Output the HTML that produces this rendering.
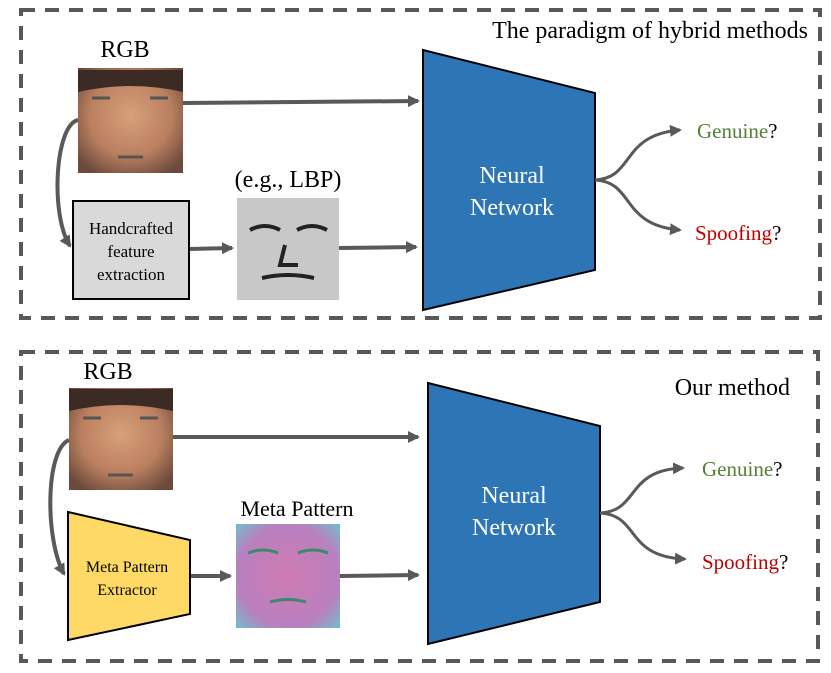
<!DOCTYPE html>
<html><head><style>body{margin:0;background:#fff}svg{display:block}text{font-family:"Liberation Serif",serif}</style></head><body>
<svg width="831" height="673" viewBox="0 0 831 673" xmlns="http://www.w3.org/2000/svg">
<defs>
<marker id="a" markerWidth="14" markerHeight="14" refX="10" refY="6" orient="auto" markerUnits="userSpaceOnUse"><path d="M0,0 L12,6 L0,12 z" fill="#595959"/></marker>
<radialGradient id="skin" cx="50%" cy="45%" r="65%"><stop offset="0" stop-color="#d9a07c"/><stop offset="0.6" stop-color="#b97f5f"/><stop offset="1" stop-color="#6b4a3c"/></radialGradient>
<radialGradient id="meta" cx="50%" cy="50%" r="70%"><stop offset="0" stop-color="#d07ab0"/><stop offset="0.7" stop-color="#b880c0"/><stop offset="1" stop-color="#6fc0c8"/></radialGradient>
</defs>
<g fill="none" stroke="#595959" stroke-width="4" stroke-dasharray="14,10">
<rect x="21" y="10" width="799" height="308"/>
<rect x="21" y="352" width="797" height="309"/>
</g>
<!-- top -->
<text x="808" y="38" font-size="24" text-anchor="end">The paradigm of hybrid methods</text>
<text x="125" y="57" font-size="24" text-anchor="middle">RGB</text>
<rect x="78" y="68" width="105" height="105" fill="url(#skin)"/>
<path d="M78,70 h105 v22 q-52,-12 -105,0z" fill="#3b2b24"/>
<g stroke="#555" stroke-width="3"><line x1="92" y1="98" x2="110" y2="98"/><line x1="150" y1="98" x2="168" y2="98"/><line x1="118" y1="157" x2="143" y2="157"/></g>
<g stroke="#595959" stroke-width="4" fill="none">
<line x1="183" y1="103" x2="418" y2="101" marker-end="url(#a)"/>
<path d="M78,120 C55,125 50,215 70,246" marker-end="url(#a)"/>
<line x1="189" y1="249" x2="232" y2="248" marker-end="url(#a)"/>
<line x1="339" y1="248" x2="416" y2="247" marker-end="url(#a)"/>
</g>
<rect x="73" y="201" width="116" height="98" fill="#d9d9d9" stroke="#000" stroke-width="2"/>
<text font-size="17" text-anchor="middle"><tspan x="131" y="234">Handcrafted</tspan><tspan x="131" y="257">feature</tspan><tspan x="131" y="280">extraction</tspan></text>
<text x="288" y="187" font-size="24" text-anchor="middle">(e.g., LBP)</text>
<rect x="237" y="198" width="102" height="102" fill="#c8c8c8"/>
<g stroke="#222" stroke-width="4" fill="none"><path d="M250,230 q15,-8 30,0 M297,230 q15,-8 30,0"/><path d="M285,245 l-5,20 h18"/><path d="M262,278 q26,-6 52,0"/></g>
<polygon points="423,50 595,93 595,270 423,310" fill="#2e75b6" stroke="#000" stroke-width="2"/>
<text font-size="24" fill="#fff" text-anchor="middle"><tspan x="512" y="183">Neural</tspan><tspan x="512" y="215">Network</tspan></text>
<g stroke="#595959" stroke-width="3" fill="none">
<path d="M595,180 C635,178 620,135 680,130" marker-end="url(#a)"/>
<path d="M595,180 C635,182 620,225 680,230" marker-end="url(#a)"/>
</g>
<text x="697" y="138" font-size="21"><tspan fill="#538135">Genuine</tspan>?</text>
<text x="695" y="240" font-size="21"><tspan fill="#c00000">Spoofing</tspan>?</text>
<!-- bottom -->
<text x="790" y="395" font-size="24" text-anchor="end">Our method</text>
<text x="108" y="379" font-size="24" text-anchor="middle">RGB</text>
<rect x="69" y="388" width="104" height="102" fill="url(#skin)"/>
<path d="M69,389 h104 v22 q-52,-12 -104,0z" fill="#3b2b24"/>
<g stroke="#555" stroke-width="3"><line x1="83" y1="418" x2="101" y2="418"/><line x1="140" y1="418" x2="158" y2="418"/><line x1="108" y1="475" x2="133" y2="475"/></g>
<g stroke="#595959" stroke-width="4" fill="none">
<line x1="173" y1="437" x2="418" y2="437" marker-end="url(#a)"/>
<path d="M69,440 C45,450 45,540 64,574" marker-end="url(#a)"/>
<line x1="190" y1="576" x2="230" y2="576" marker-end="url(#a)"/>
<line x1="340" y1="576" x2="418" y2="575" marker-end="url(#a)"/>
</g>
<polygon points="68,512 190,540 190,614 68,640" fill="#ffd966" stroke="#000" stroke-width="2"/>
<text font-size="16" text-anchor="middle"><tspan x="127" y="572">Meta Pattern</tspan><tspan x="127" y="595">Extractor</tspan></text>
<text x="297" y="516" font-size="22" text-anchor="middle">Meta Pattern</text>
<rect x="236" y="524" width="104" height="104" fill="url(#meta)"/>
<g stroke="#3a8a6a" stroke-width="3" fill="none"><path d="M248,553 q15,-6 30,0 M298,553 q15,-6 30,0"/><path d="M270,602 q18,-5 36,0"/></g>
<polygon points="428,383 600,426 600,602 428,644" fill="#2e75b6" stroke="#000" stroke-width="2"/>
<text font-size="24" fill="#fff" text-anchor="middle"><tspan x="514" y="503">Neural</tspan><tspan x="514" y="535">Network</tspan></text>
<g stroke="#595959" stroke-width="3" fill="none">
<path d="M600,513 C640,511 625,470 683,468" marker-end="url(#a)"/>
<path d="M600,513 C640,515 625,557 685,559" marker-end="url(#a)"/>
</g>
<text x="702" y="476" font-size="21"><tspan fill="#538135">Genuine</tspan>?</text>
<text x="702" y="569" font-size="21"><tspan fill="#c00000">Spoofing</tspan>?</text>
</svg>
</body></html>
